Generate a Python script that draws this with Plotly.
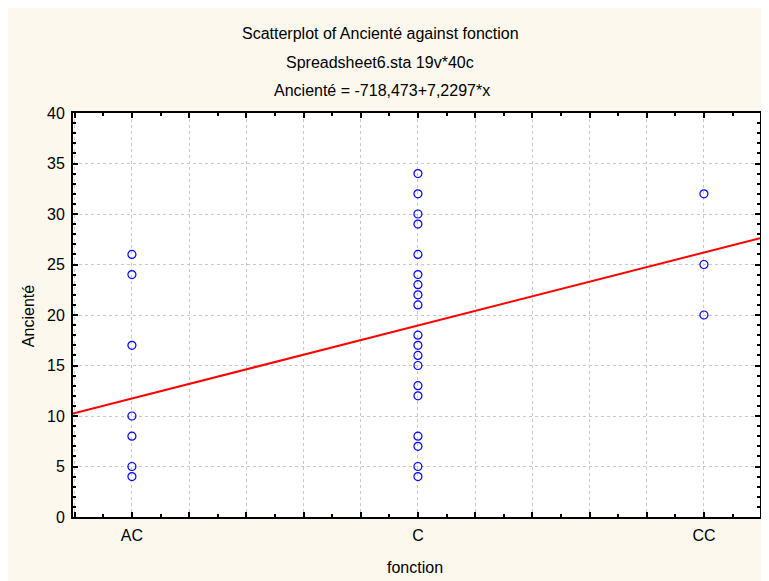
import plotly.graph_objects as go

# ---- data ----
categories = ["AC", "C", "CC"]
category_codes = [101, 102, 103]
anciennete_AC = [26, 24, 17, 10, 8, 5, 4]
anciennete_C = [34, 32, 30, 29, 26, 24, 23, 22, 21, 18, 17, 16, 15, 13, 12, 8, 7, 5, 4]
anciennete_CC = [32, 25, 20]
intercept = -718.473
slope = 7.2297
x_range = [100.794, 103.196]
y_range = [0, 40]

values_by_cat = [anciennete_AC, anciennete_C, anciennete_CC]
xs, ys = [], []
for code, vals in zip(category_codes, values_by_cat):
    for v in vals:
        xs.append(code)
        ys.append(v)

line_x = [x_range[0], x_range[1]]
line_y = [intercept + slope * v for v in line_x]

CREAM = "#FCF8EE"
FONT = "Liberation Sans, Arial, sans-serif"

fig = go.Figure()
fig.add_trace(go.Scatter(
    x=line_x, y=line_y, mode="lines",
    line=dict(color="#FF0000", width=2), hoverinfo="skip", showlegend=False,
))
fig.add_trace(go.Scatter(
    x=xs, y=ys, mode="markers",
    marker=dict(symbol="circle-open", size=8, color="#0000FF", line=dict(width=1.2, color="#0000FF")),
    showlegend=False,
))

# major ticks every 0.2, labels only at the category codes
major_vals = [round(100.8 + 0.2 * i, 1) for i in range(13)]
major_text = []
for v in major_vals:
    lab = ""
    for c, name in zip(category_codes, categories):
        if abs(v - c) < 1e-9:
            lab = name
    major_text.append(lab)

fig.update_xaxes(
    range=x_range, tickmode="array", tickvals=major_vals, ticktext=major_text,
    showline=True, linecolor="black", linewidth=2, mirror="ticks",
    ticks="inside", ticklen=5, tickwidth=2, tickcolor="black",
    showgrid=True, gridcolor="#C8C8C8", griddash="dot", gridwidth=1,
    zeroline=False,
    minor=dict(dtick=0.1, tick0=100.8, ticks="inside", ticklen=3, tickwidth=1.5,
               tickcolor="black", showgrid=False),
    tickfont=dict(family=FONT, size=16, color="black"),
    ticklabelstandoff=3,
)
fig.update_yaxes(
    range=y_range, dtick=5, tick0=0,
    showline=True, linecolor="black", linewidth=2, mirror="ticks",
    ticks="inside", ticklen=5, tickwidth=2, tickcolor="black",
    showgrid=True, gridcolor="#C8C8C8", griddash="dot", gridwidth=1,
    zeroline=False,
    minor=dict(dtick=1, ticks="inside", ticklen=3, tickwidth=1.5,
               tickcolor="black", showgrid=False),
    tickfont=dict(family=FONT, size=16, color="black"),
    ticklabelstandoff=3,
)

# page has an 8px body margin; positions below are in window pixels
OFF = 8
W, H = 761, 573
L, R, T, B = 73 - OFF, 7, 113 - OFF, 64
pw, ph = W - L - R, H - T - B

def px_x(p):
    return (p - OFF - L) / pw

def px_y(p):
    return (H - B - (p - OFF)) / ph

annotations = [
    dict(text="Scatterplot of Ancienté against fonction", x=px_x(381), y=px_y(33)),
    dict(text="Spreadsheet6.sta 19v*40c", x=px_x(381), y=px_y(62)),
    dict(text="Ancienté = -718,473+7,2297*x", x=px_x(383), y=px_y(91)),
    dict(text="fonction", x=px_x(416), y=px_y(567)),
    dict(text="Ancienté", x=px_x(28), y=px_y(316), textangle=-90),
]
for a in annotations:
    a.update(xref="paper", yref="paper", showarrow=False, xanchor="center", yanchor="middle",
             font=dict(family=FONT, size=16, color="black"))

fig.update_layout(
    width=W, height=H,
    margin=dict(l=L, r=R, t=T, b=B, pad=0),
    paper_bgcolor=CREAM, plot_bgcolor="white",
    annotations=annotations,
    font=dict(family=FONT, color="black"),
    showlegend=False,
)

fig.write_html("out.html")
